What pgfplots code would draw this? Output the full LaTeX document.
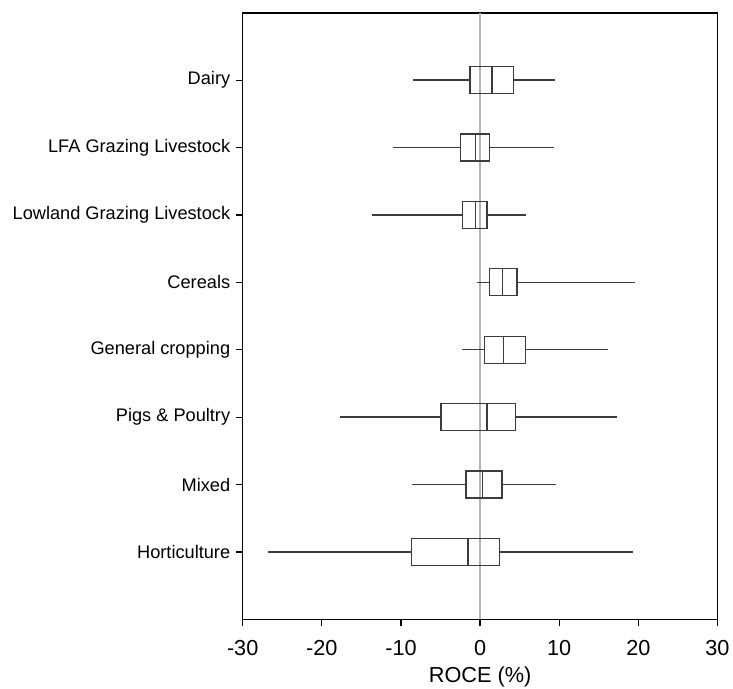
\documentclass[border=0pt]{standalone}
\usepackage{pgfplots}
\pgfplotsset{compat=1.18}
\usepgfplotslibrary{statistics}
\usepackage{fontspec}
\setmainfont{Liberation Sans}
\definecolor{boxc}{HTML}{3C3C3C}
\definecolor{zeroc}{HTML}{B4B4B4}
\begin{document}
\begin{tikzpicture}
\begin{axis}[
  scale only axis,
  width=474.8bp, height=606.6bp,
  xmin=-30, xmax=30, ymin=0, ymax=9, y dir=reverse,
  xtick={-30,-20,...,30}, ytick={1,...,8},
  yticklabels={Dairy, LFA Grazing Livestock, Lowland Grazing Livestock, Cereals, General cropping, Pigs \& Poultry, Mixed, Horticulture},
  tick align=outside, xtick pos=bottom, ytick pos=left,
  major tick length=7bp,
  tick style={black, line width=1.2bp},
  axis line style={black, line width=1.6bp},
  /pgf/number format/assume math mode=true,
  xticklabel style={font=\fontsize{21.7bp}{24bp}\selectfont, yshift=-11bp},
  yticklabel style={font=\fontsize{18.2bp}{20bp}\selectfont, xshift=-2bp},
  xlabel={ROCE (\%)},
  xlabel style={font=\fontsize{21.7bp}{24bp}\selectfont, yshift=-4bp},
  boxplot/draw direction=x,
  boxplot/box extend=0.4,
  boxplot/whisker extend=0,
  every axis plot/.append style={boxc, line width=1.3bp},
]
\addplot[zeroc, line width=1.6bp] coordinates {(0,0) (0,9)};
\addplot[boxplot prepared={draw position=1, lower whisker=-8.43, lower quartile=-1.26, median=1.52, upper quartile=4.21, upper whisker=9.52}] coordinates {};
\addplot[boxplot prepared={draw position=2, lower whisker=-10.96, lower quartile=-2.49, median=-0.59, upper quartile=1.22, upper whisker=9.40}] coordinates {};
\addplot[boxplot prepared={draw position=3, lower whisker=-13.6, lower quartile=-2.23, median=-0.59, upper quartile=0.89, upper whisker=5.82}] coordinates {};
\addplot[boxplot prepared={draw position=4, lower whisker=-0.38, lower quartile=1.22, median=2.87, upper quartile=4.68, upper whisker=19.6}] coordinates {};
\addplot[boxplot prepared={draw position=5, lower whisker=-2.32, lower quartile=0.59, median=2.95, upper quartile=5.73, upper whisker=16.2}] coordinates {};
\addplot[boxplot prepared={draw position=6, lower whisker=-17.74, lower quartile=-4.93, median=0.89, upper quartile=4.47, upper whisker=17.3}] coordinates {};
\addplot[boxplot prepared={draw position=7, lower whisker=-8.55, lower quartile=-1.77, median=0.30, upper quartile=2.78, upper whisker=9.57}] coordinates {};
\addplot[boxplot prepared={draw position=8, lower whisker=-26.8, lower quartile=-8.64, median=-1.52, upper quartile=2.44, upper whisker=19.34}] coordinates {};
\end{axis}
\pgfresetboundingbox
\path[use as bounding box] (current axis.south west) ++(-242.7bp,-69.7bp) rectangle ++(733bp,689bp);
\end{tikzpicture}
\end{document}
